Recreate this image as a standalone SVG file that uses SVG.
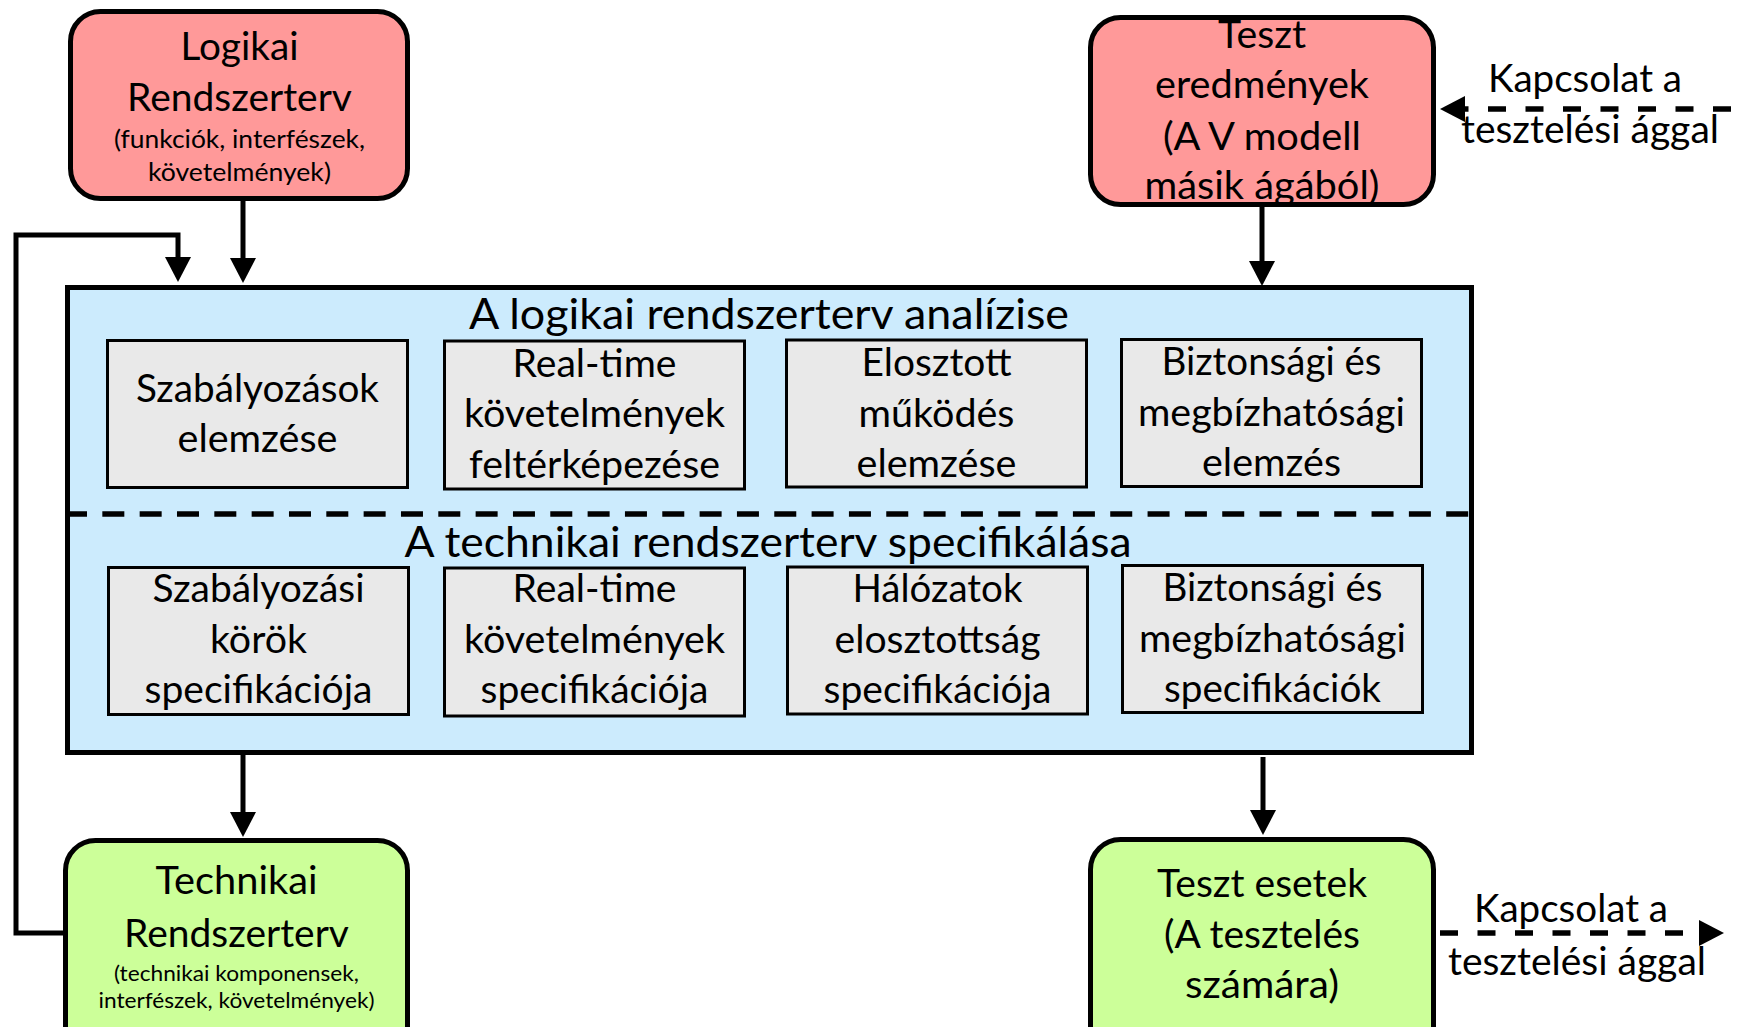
<svg xmlns="http://www.w3.org/2000/svg" width="1746" height="1027" viewBox="0 0 1746 1027">
  <defs>
    <style>
      text { font-family: Lato, "Open Sans", "DejaVu Sans", sans-serif; fill: #000; text-anchor: middle; }
      .t { font-size: 38px; }
      .h { font-size: 43px; }
      .s { font-size: 25px; }
      .xs { font-size: 21.5px; }
      .box { stroke: #000; stroke-width: 5; }
      .red { fill: #FF9999; }
      .green { fill: #CCFF99; }
      .panel { fill: #CCEBFD; stroke: #000; stroke-width: 5; }
      .cell rect { fill: #E9E9E9; stroke: #000; stroke-width: 3; }
      .wire { fill: none; stroke: #000; stroke-width: 5; }
      .dash { fill: none; stroke: #000; stroke-width: 5.5; stroke-dasharray: 18 19.5; }
    </style>
    <marker id="head" markerUnits="userSpaceOnUse" viewBox="0 0 25 26" refX="0" refY="13" markerWidth="25" markerHeight="26" orient="auto">
      <path d="M0,0 L25,13 L0,26 Z" fill="#000"/>
    </marker>
  </defs>

  <rect width="1746" height="1027" fill="#fff"/>

  <!-- central panel: analysis and specification -->
  <g id="panel">
    <rect class="panel" x="67.5" y="287.5" width="1404" height="465"/>
    <line x1="65" y1="514" x2="1470" y2="514" stroke="#000" stroke-width="5.5" stroke-dasharray="22 15.33"/>
    <text class="h" x="769" y="329" textLength="600" lengthAdjust="spacingAndGlyphs">A logikai rendszerterv analízise</text>
    <text class="h" x="768" y="557" textLength="727" lengthAdjust="spacingAndGlyphs">A technikai rendszerterv specifikálása</text>
  </g>

  <!-- upper row: logical analysis -->
  <g id="cell-szabalyozasok" class="cell">
    <rect x="107.5" y="340.5" width="300" height="147"/>
    <text class="t" x="257.5" y="402" textLength="243" lengthAdjust="spacingAndGlyphs">Szabályozások</text>
    <text class="t" x="257.5" y="452" textLength="160" lengthAdjust="spacingAndGlyphs">elemzése</text>
  </g>
  <g id="cell-realtime-log" class="cell">
    <rect x="444.5" y="341" width="300" height="148"/>
    <text class="t" x="594.5" y="377" textLength="164" lengthAdjust="spacingAndGlyphs">Real-time</text>
    <text class="t" x="594.5" y="427" textLength="261" lengthAdjust="spacingAndGlyphs">követelmények</text>
    <text class="t" x="594.5" y="478" textLength="251" lengthAdjust="spacingAndGlyphs">feltérképezése</text>
  </g>
  <g id="cell-elosztott" class="cell">
    <rect x="786.5" y="340" width="300" height="147"/>
    <text class="t" x="936.5" y="376" textLength="150" lengthAdjust="spacingAndGlyphs">Elosztott</text>
    <text class="t" x="936.5" y="427" textLength="156" lengthAdjust="spacingAndGlyphs">működés</text>
    <text class="t" x="936.5" y="477" textLength="160" lengthAdjust="spacingAndGlyphs">elemzése</text>
  </g>
  <g id="cell-biztonsag-log" class="cell">
    <rect x="1121.5" y="339.5" width="300" height="147"/>
    <text class="t" x="1271.5" y="375" textLength="220" lengthAdjust="spacingAndGlyphs">Biztonsági és</text>
    <text class="t" x="1271.5" y="426" textLength="267" lengthAdjust="spacingAndGlyphs">megbízhatósági</text>
    <text class="t" x="1271.5" y="476" textLength="139" lengthAdjust="spacingAndGlyphs">elemzés</text>
  </g>

  <!-- lower row: technical specification -->
  <g id="cell-szabalyozasi" class="cell">
    <rect x="108.5" y="567.5" width="300" height="147"/>
    <text class="t" x="258.5" y="602" textLength="212" lengthAdjust="spacingAndGlyphs">Szabályozási</text>
    <text class="t" x="258.5" y="653" textLength="97" lengthAdjust="spacingAndGlyphs">körök</text>
    <text class="t" x="258.5" y="703" textLength="228" lengthAdjust="spacingAndGlyphs">specifikációja</text>
  </g>
  <g id="cell-realtime-tech" class="cell">
    <rect x="444.5" y="568" width="300" height="148"/>
    <text class="t" x="594.5" y="602" textLength="164" lengthAdjust="spacingAndGlyphs">Real-time</text>
    <text class="t" x="594.5" y="653" textLength="261" lengthAdjust="spacingAndGlyphs">követelmények</text>
    <text class="t" x="594.5" y="703" textLength="228" lengthAdjust="spacingAndGlyphs">specifikációja</text>
  </g>
  <g id="cell-halozatok" class="cell">
    <rect x="787.5" y="567" width="300" height="147"/>
    <text class="t" x="937.5" y="602" textLength="170" lengthAdjust="spacingAndGlyphs">Hálózatok</text>
    <text class="t" x="937.5" y="653" textLength="206" lengthAdjust="spacingAndGlyphs">elosztottság</text>
    <text class="t" x="937.5" y="703" textLength="228" lengthAdjust="spacingAndGlyphs">specifikációja</text>
  </g>
  <g id="cell-biztonsag-tech" class="cell">
    <rect x="1122.5" y="565.5" width="300" height="147"/>
    <text class="t" x="1272.5" y="601" textLength="220" lengthAdjust="spacingAndGlyphs">Biztonsági és</text>
    <text class="t" x="1272.5" y="652" textLength="267" lengthAdjust="spacingAndGlyphs">megbízhatósági</text>
    <text class="t" x="1272.5" y="702" textLength="217" lengthAdjust="spacingAndGlyphs">specifikációk</text>
  </g>

  <!-- outer nodes -->
  <g id="logikai-rendszerterv">
    <rect class="box red" x="70.5" y="11.5" width="337" height="187" rx="30"/>
    <text class="t" x="239.5" y="60" textLength="118" lengthAdjust="spacingAndGlyphs">Logikai</text>
    <text class="t" x="239.5" y="111" textLength="225" lengthAdjust="spacingAndGlyphs">Rendszerterv</text>
    <text class="s" x="239.5" y="148" textLength="251" lengthAdjust="spacingAndGlyphs">(funkciók, interfészek,</text>
    <text class="s" x="239.5" y="181" textLength="183" lengthAdjust="spacingAndGlyphs">követelmények)</text>
  </g>

  <g id="teszt-eredmenyek">
    <rect class="box red" x="1090.5" y="17.5" width="343" height="187" rx="30"/>
    <text class="t" x="1262" y="48" textLength="88" lengthAdjust="spacingAndGlyphs">Teszt</text>
    <text class="t" x="1262" y="98" textLength="214" lengthAdjust="spacingAndGlyphs">eredmények</text>
    <text class="t" x="1262" y="150" textLength="198" lengthAdjust="spacingAndGlyphs">(A V modell</text>
    <text class="t" x="1262" y="199" textLength="235" lengthAdjust="spacingAndGlyphs">másik ágából)</text>
  </g>

  <g id="technikai-rendszerterv">
    <rect class="box green" x="65.5" y="840.5" width="342" height="220" rx="30"/>
    <text class="t" x="236.5" y="894" textLength="162" lengthAdjust="spacingAndGlyphs">Technikai</text>
    <text class="t" x="236.5" y="947" textLength="225" lengthAdjust="spacingAndGlyphs">Rendszerterv</text>
    <text class="xs" x="236.5" y="981" textLength="245" lengthAdjust="spacingAndGlyphs">(technikai komponensek,</text>
    <text class="xs" x="236.5" y="1008" textLength="276" lengthAdjust="spacingAndGlyphs">interfészek, követelmények)</text>
  </g>

  <g id="teszt-esetek">
    <rect class="box green" x="1090.5" y="839.5" width="343" height="220" rx="30"/>
    <text class="t" x="1262" y="897" textLength="210" lengthAdjust="spacingAndGlyphs">Teszt esetek</text>
    <text class="t" x="1262" y="948" textLength="196" lengthAdjust="spacingAndGlyphs">(A tesztelés</text>
    <text class="t" x="1262" y="998" textLength="154" lengthAdjust="spacingAndGlyphs">számára)</text>
  </g>

  <!-- connectors -->
  <g id="connectors">
    <path class="wire" d="M243,201 V258" marker-end="url(#head)"/>
    <path class="wire" d="M64,933 H16 V235 H178 V257" marker-end="url(#head)"/>
    <path class="wire" d="M1262,207 V261" marker-end="url(#head)"/>
    <path class="wire" d="M243,753 V812" marker-end="url(#head)"/>
    <path class="wire" d="M1263,757 V810" marker-end="url(#head)"/>
    <path class="dash" d="M1731,109 H1465" marker-end="url(#head)"/>
    <path class="dash" d="M1440,933 H1699" marker-end="url(#head)"/>
    <text class="t" x="1585" y="92" textLength="194" lengthAdjust="spacingAndGlyphs">Kapcsolat a</text>
    <text class="t" x="1590" y="143" textLength="258" lengthAdjust="spacingAndGlyphs">tesztelési ággal</text>
    <text class="t" x="1571" y="922" textLength="194" lengthAdjust="spacingAndGlyphs">Kapcsolat a</text>
    <text class="t" x="1577" y="975" textLength="258" lengthAdjust="spacingAndGlyphs">tesztelési ággal</text>
  </g>
</svg>
